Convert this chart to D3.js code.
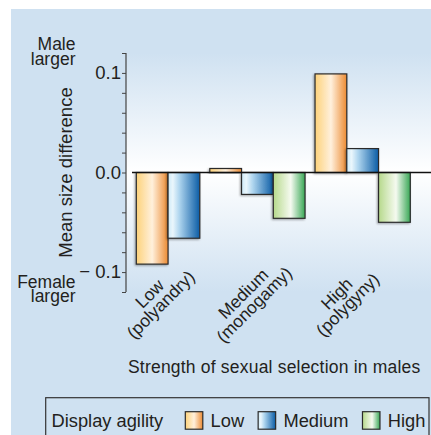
<!DOCTYPE html>
<html>
<head>
<meta charset="utf-8">
<script src="https://cdn.jsdelivr.net/npm/d3@7"></script>
<style>
body { margin: 0; background: #fff; }
svg text { font-family: "Liberation Sans", Arial, sans-serif; fill: #231f20; }
</style>
</head>
<body>
<div id="chart"></div>
<script>

// data
const selectionLevels = ["Low", "Medium", "High"]
const matingSystems = ["(polyandry)", "(monogamy)", "(polygyny)"]
const agilityLevels = ["Low", "Medium", "High"]
const lowAgility = [-0.092, 0.004, 0.099]
const mediumAgility = [-0.066, -0.022, 0.024]
const highAgility = [null, -0.046, -0.050]
const yTickValues = [-0.1, 0.0, 0.1]
const yTickLabels = ["\u2212 0.1", "0.0", "0.1"]


function drawChart() {

    const width = 431
    const height = 435
    const bg = "#cfe1f1"
    const fontSize = 17.5

    const series = [lowAgility, mediumAgility, highAgility]

    // gradient stops for each agility level
    const barColors = {
        Low: [["0%", "#fdd27a"], ["50%", "#fff0dc"], ["100%", "#ec8b33"]],
        Medium: [["0%", "#cdeaf8"], ["15%", "#eaf6fc"], ["35%", "#b0d6ef"], ["100%", "#0b5ca5"]],
        High: [["0%", "#b6d98b"], ["55%", "#f5faf0"], ["100%", "#38a755"]]
    }

    const svg = d3.select("#chart")
        .append("svg")
        .attr("width", width)
        .attr("height", height)

    const defs = svg.append("defs")

    agilityLevels.forEach(level => {
        const grad = defs.append("linearGradient")
            .attr("id", "bar_" + level)
            .attr("x1", "0%").attr("x2", "100%")
            .attr("y1", "0%").attr("y2", "0%")
        grad.selectAll("stop")
            .data(barColors[level])
            .join("stop")
            .attr("offset", d => d[0])
            .attr("stop-color", d => d[1])
    })

    const plotGrad = defs.append("linearGradient")
        .attr("id", "plot_bg")
        .attr("x1", "0%").attr("x2", "0%")
        .attr("y1", "0%").attr("y2", "100%")
    plotGrad.selectAll("stop")
        .data([["0%", bg], ["50%", "#ffffff"], ["100%", bg]])
        .join("stop")
        .attr("offset", d => d[0])
        .attr("stop-color", d => d[1])

    const shadow = defs.append("filter")
        .attr("id", "shadow")
        .attr("x", "-20%").attr("y", "-20%")
        .attr("width", "140%").attr("height", "140%")
    shadow.append("feDropShadow")
        .attr("dx", -1).attr("dy", 1)
        .attr("stdDeviation", 0.8)
        .attr("flood-color", "#000")
        .attr("flood-opacity", 0.35)

    // panel background
    svg.append("rect")
        .attr("x", 11).attr("y", 9)
        .attr("width", width - 11).attr("height", height - 9)
        .attr("fill", bg)

    // scales
    const y = d3.scaleLinear()
        .domain([-0.12, 0.12])
        .range([292, 53])

    const axisX = 126

    svg.append("rect")
        .attr("x", axisX).attr("y", y(0.12))
        .attr("width", width - axisX)
        .attr("height", y(-0.12) - y(0.12))
        .attr("fill", "url(#plot_bg)")

    // bars packed one after another, small gap between groups
    const gapUnits = 0.315
    const bars = []
    let slot = 0
    selectionLevels.forEach((group, i) => {
        if (i > 0) slot += gapUnits
        agilityLevels.forEach((agility, j) => {
            const value = series[j][i]
            if (value == null) return
            bars.push({ group, agility, value, slot })
            slot += 1
        })
    })

    const x = d3.scaleLinear()
        .domain([0, slot])
        .range([136.3, 410.3])

    const barWidth = x(1) - x(0)

    svg.append("g")
        .selectAll("rect")
        .data(bars)
        .join("rect")
        .attr("x", d => x(d.slot))
        .attr("width", barWidth)
        .attr("y", d => y(Math.max(0, d.value)))
        .attr("height", d => Math.abs(y(d.value) - y(0)))
        .attr("fill", d => "url(#bar_" + d.agility + ")")
        .attr("stroke", "#2b2b2b")
        .attr("stroke-width", 1.2)
        .attr("filter", "url(#shadow)")

    // zero line
    svg.append("line")
        .attr("x1", 132).attr("x2", width)
        .attr("y1", y(0)).attr("y2", y(0))
        .attr("stroke", "#111")
        .attr("stroke-width", 1.6)

    // y axis
    const yAxis = d3.axisLeft(y)
        .ticks(12)
        .tickSize(4)
        .tickFormat("")

    const yAxisG = svg.append("g")
        .attr("transform", `translate(${axisX},0)`)
        .call(yAxis)
    yAxisG.select(".domain")
        .attr("d", `M0,${y(0.12)}V${y(-0.12)}`)
        .attr("stroke", "#444")
        .attr("stroke-width", 1.2)
    yAxisG.selectAll(".tick line")
        .attr("stroke", "#444")

    svg.append("g")
        .selectAll("text")
        .data(yTickValues)
        .join("text")
        .attr("x", 121)
        .attr("y", d => y(d) + 6.3)
        .attr("text-anchor", "end")
        .attr("font-size", 18.5)
        .text((d, i) => yTickLabels[i])

    // y axis title
    svg.append("text")
        .attr("transform", `translate(72,${y(0)}) rotate(-90)`)
        .attr("text-anchor", "middle")
        .attr("font-size", 18.5)
        .text("Mean size difference")

    const sideNotes = [
        { lines: ["Male", "larger"], yTop: 50 },
        { lines: ["Female", "larger"], yTop: 287.5 }
    ]
    sideNotes.forEach(note => {
        svg.append("text")
            .attr("text-anchor", "end")
            .attr("font-size", fontSize)
            .selectAll("tspan")
            .data(note.lines)
            .join("tspan")
            .attr("x", 75.5)
            .attr("y", (d, i) => note.yTop + i * 14.8)
            .text(d => d)
    })

    // rotated category labels
    const labelX = d3.scalePoint()
        .domain(selectionLevels)
        .range([155, 342])

    const labels = svg.append("g")
        .selectAll("g")
        .data(selectionLevels)
        .join("g")
        .attr("transform", d => `translate(${labelX(d)},299) rotate(-45)`)

    labels.append("text")
        .attr("text-anchor", "middle")
        .attr("font-size", fontSize)
        .selectAll("tspan")
        .data((d, i) => [d, matingSystems[i]])
        .join("tspan")
        .attr("x", 0)
        .attr("y", (d, i) => i === 0 ? -1.5 : 14)
        .text(d => d)

    // x axis title
    svg.append("text")
        .attr("x", 128)
        .attr("y", 373)
        .attr("font-size", fontSize)
        .attr("letter-spacing", 0.2)
        .text("Strength of sexual selection in males")

    // legend
    const legend = svg.append("g")

    legend.append("rect")
        .attr("x", 45.7).attr("y", 397.7)
        .attr("width", 429 - 45.7).attr("height", 60)
        .attr("fill", "none")
        .attr("stroke", "#333")
        .attr("stroke-width", 1.2)

    legend.append("text")
        .attr("x", 51.5).attr("y", 427)
        .attr("font-size", 18.3)
        .text("Display agility")

    let lx = 185.3
    agilityLevels.forEach(level => {
        legend.append("rect")
            .attr("x", lx).attr("y", 411.7)
            .attr("width", 17.5).attr("height", 17.5)
            .attr("fill", "url(#bar_" + level + ")")
            .attr("stroke", "#2b2b2b")
            .attr("stroke-width", 1.2)
        const t = legend.append("text")
            .attr("x", lx + 25.3).attr("y", 427)
            .attr("font-size", 18.3)
            .text(level)
        lx = lx + 25.3 + t.node().getComputedTextLength() + 14
    })
}

drawChart()
</script>
</body>
</html>
